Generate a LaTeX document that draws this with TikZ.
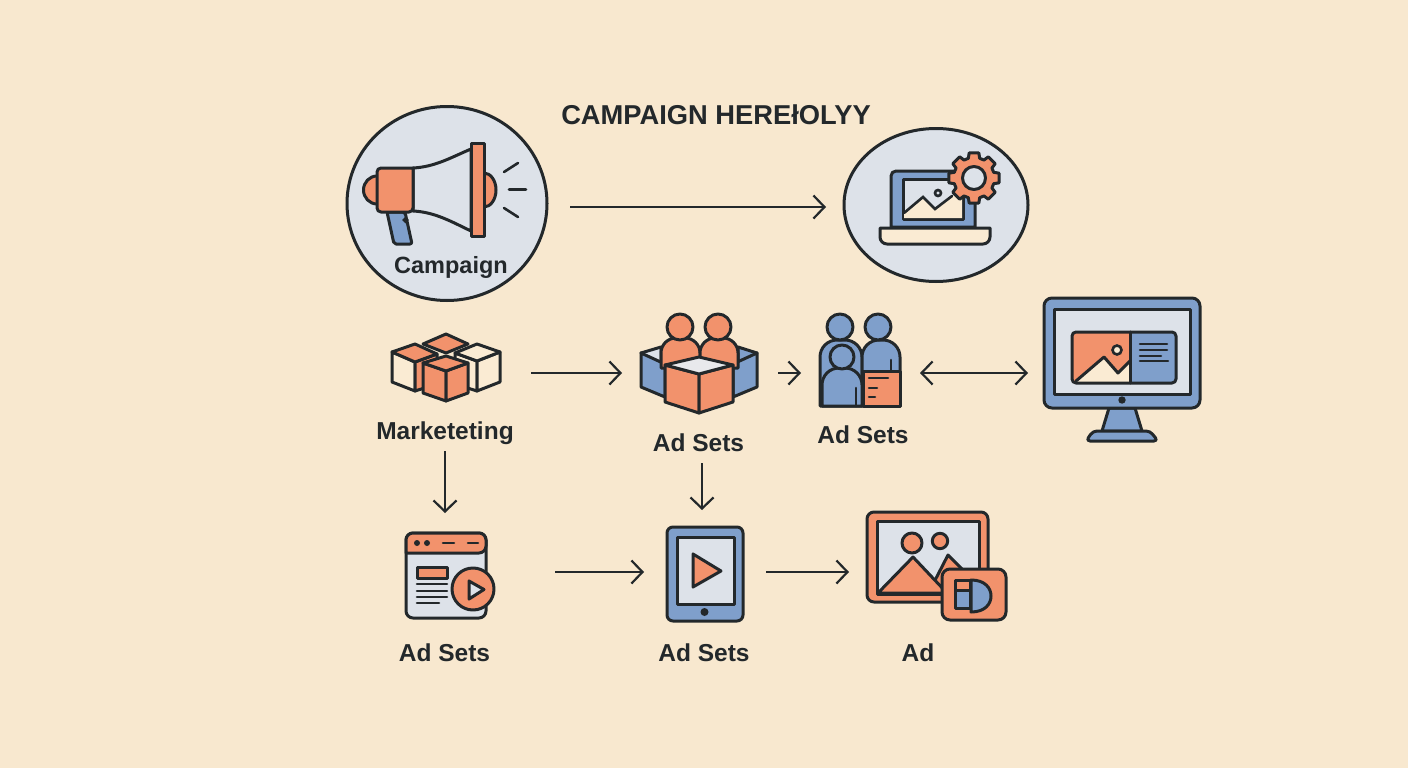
\documentclass[tikz,border=0pt]{standalone}
\usepackage{fontspec}
\setmainfont{Liberation Sans}
\usepackage{xcolor}
\usepackage{tikz}
\usetikzlibrary{arrows.meta,positioning,calc}
\definecolor{pagebg}{HTML}{F8E8CF}
\definecolor{inkdark}{HTML}{23282B}
\definecolor{iconorange}{HTML}{F2926C}
\definecolor{iconblue}{HTML}{7F9FCB}
\definecolor{iconpale}{HTML}{DDE2E9}
\definecolor{iconcream}{HTML}{FAEBD3}
\definecolor{iconwhite}{HTML}{E8E9EC}

\begin{document}
\begin{tikzpicture}[
  x=1pt, y=-1pt,
  hub/.style={inner sep=0pt, outer sep=0pt, minimum width=#1},
  lbl/.style={inner sep=0pt, outer sep=0pt, align=center, text=inkdark, font=\fontsize{24.5}{28}\selectfont\bfseries},
  ink/.style={draw=inkdark, line width=3pt, line join=round, line cap=round},
  thin ink/.style={draw=inkdark, line width=2.6pt, line cap=round},
  arr/.style={-{Straight Barb[length=11pt, width=23pt, line width=2.2pt]}, line width=2.2pt, draw=inkdark},
  biarr/.style={{Straight Barb[length=11pt, width=23pt, line width=2.2pt]}-{Straight Barb[length=11pt, width=23pt, line width=2.2pt]}, line width=2.2pt, draw=inkdark}
]
  \fill[pagebg] (0,0) rectangle (1408,768);
  \useasboundingbox (0,0) rectangle (1408,768);

  % icon places, the connectors run between them
  \node[hub=246pt, minimum height=196pt] (campaign) at (447,207) {};
  \node[hub=220pt, minimum height=154pt] (laptop) at (936,207) {};
  \node[hub=172pt, minimum height=70pt] (cubes) at (445,373) {};
  \node[hub=156pt, minimum height=100pt] (crate) at (700,373) {};
  \node[hub=119pt, minimum height=90pt] (team) at (860.5,373) {};
  \node[hub=188pt, minimum height=140pt] (monitor) at (1122,373) {};
  \node[hub=220pt, minimum height=118pt] (window) at (445,572) {};
  \node[hub=122pt, minimum height=124pt] (tablet) at (705,572) {};
  \node[hub=158pt, minimum height=110pt] (photo) at (928,572) {};

  % campaign
  \draw[ink, fill=iconpale] (447,203.5) ellipse (100 and 97);
  \draw[ink, fill=iconorange] (377,190) ellipse (13.5 and 14);
  \draw[ink, fill=iconorange] (484,190) ellipse (12 and 17);
  \draw[ink, fill=iconblue, rounded corners=2pt] (387,212) -- (405,212) -- (412,244) -- (394,244) -- cycle;
  \draw[thin ink, fill=iconpale] (405.5,220) circle (1.5);
  \draw[ink, fill=iconpale] (413,168) .. controls (435,167) and (452,157) .. (471,149) -- (471,231) .. controls (452,222) and (435,212) .. (413,211) -- cycle;
  \draw[ink, fill=iconorange, rounded corners=4pt] (413,168) -- (377,168) -- (377,212) -- (413,212) [sharp corners] -- cycle;
  \draw[ink, fill=iconorange] (471,143) rectangle (484,236);
  \draw[thin ink] (504,172) -- (518,163);
  \draw[thin ink] (509,189.5) -- (526,189.5);
  \draw[thin ink] (504,208) -- (518,217);
  \node[lbl, font=\fontsize{23.5}{28}\selectfont\bfseries] (campaignlabel) at (451,267) {Campaign};

  % laptop
  \draw[ink, fill=iconpale] (936,205) ellipse (92 and 76.5);
  \draw[ink, fill=iconblue, rounded corners=5pt] (891,227) -- (891,171) -- (975,171) [sharp corners] -- (975,227) -- cycle;
  \draw[ink, fill=iconpale] (903,179) rectangle (963,219);
  \fill[iconcream] (904,213) -- (923,197) -- (935,209) -- (952,196) -- (962,196) -- (962,218) -- (904,218) -- cycle;
  \draw[thin ink] (904,213) -- (923,197) -- (935,209) -- (952,196);
  \draw[thin ink, fill=iconpale] (938,193) circle (3);
  \draw[ink, fill=iconcream, rounded corners=7pt] (880,228) [sharp corners] -- (990,228) [rounded corners=7pt] -- (990,244) -- (880,244) [sharp corners] -- cycle;
  \draw[ink, fill=iconorange, shift={(974,178)}] (-16:20.5)
    \foreach \a in {0,45,...,315} { -- (\a-16:20.5) -- (\a-11:25.5) -- (\a+11:25.5) -- (\a+16:20.5) } -- cycle;
  \draw[ink, fill=iconpale] (974,178) circle (11.5);

  % cubes
  \draw[ink, fill=iconorange] (423,344) -- (446,334) -- (468,344) -- (446,353) -- cycle;
  \draw[ink, fill=iconcream] (392,352) -- (415,362) -- (415,391) -- (392,382) -- cycle;
  \draw[ink, fill=iconorange] (415,362) -- (437,354) -- (437,384) -- (415,391) -- cycle;
  \draw[ink, fill=iconorange] (392,352) -- (415,344) -- (437,354) -- (415,362) -- cycle;
  \draw[ink, fill=iconcream] (455,353) -- (477,361) -- (477,391) -- (455,384) -- cycle;
  \draw[ink, fill=iconcream] (477,361) -- (500,352) -- (500,382) -- (477,391) -- cycle;
  \draw[ink, fill=iconcream] (455,353) -- (477,344) -- (500,352) -- (477,361) -- cycle;
  \draw[ink, fill=iconorange] (423,363) -- (446,371) -- (446,401) -- (423,393) -- cycle;
  \draw[ink, fill=iconorange] (446,371) -- (468,363) -- (468,393) -- (446,401) -- cycle;
  \draw[ink, fill=iconorange] (423,363) -- (446,356) -- (468,363) -- (446,371) -- cycle;
  \node[lbl, minimum height=36pt] (marketlabel) at (445,433) {Marketeting};

  % crate with people
  \draw[ink, fill=iconpale] (641,353) -- (661,347) -- (661,368) -- cycle;
  \draw[ink, fill=iconblue] (757,353) -- (738,347) -- (738,368) -- cycle;
  \draw[ink, fill=iconblue] (641,353) -- (665,364) -- (665,397) -- (641,387) -- cycle;
  \draw[ink, fill=iconblue] (757,353) -- (733,364) -- (733,397) -- (757,387) -- cycle;
  \draw[ink, fill=iconorange, rounded corners=15pt] (661,368) -- (661,338) -- (700,338) [sharp corners] -- (700,368) -- cycle;
  \draw[ink, fill=iconorange, rounded corners=15pt] (700,368) -- (700,338) -- (738,338) [sharp corners] -- (738,368) -- cycle;
  \draw[ink, fill=iconorange] (680,327) circle (13);
  \draw[ink, fill=iconorange] (718,327) circle (13);
  \draw[ink, fill=iconorange] (665,365) -- (699,374) -- (699,413) -- (665,402) -- cycle;
  \draw[ink, fill=iconorange] (699,374) -- (733,365) -- (733,402) -- (699,413) -- cycle;
  \draw[ink, fill=iconwhite] (665,365) -- (699,357) -- (733,365) -- (699,374) -- cycle;
  \node[lbl, minimum height=40pt] (crateslabel) at (698.5,443) {Ad Sets};

  % team
  \draw[ink, fill=iconblue, rounded corners=17pt] (820,406) -- (820,340) -- (862,340) [sharp corners] -- (862,406) -- cycle;
  \draw[ink, fill=iconblue, rounded corners=17pt] (862,406) -- (862,340) -- (900,340) [sharp corners] -- (900,406) -- cycle;
  \draw[ink, fill=iconblue] (840,327) circle (13);
  \draw[ink, fill=iconblue] (878,327) circle (13);
  \draw[thin ink] (891,360) -- (891,371);
  \draw[ink, fill=iconorange] (863,371) rectangle (900,406);
  \draw[thin ink] (869,378) -- (888,378);
  \draw[thin ink] (869,388) -- (877,388);
  \draw[thin ink] (869,397) -- (875,397);
  \draw[ink, fill=iconblue, rounded corners=17pt] (822,406) -- (822,368) -- (862,368) [sharp corners] -- (862,406) -- cycle;
  \draw[ink, fill=iconblue] (842,357) circle (12);
  \draw[thin ink] (856,388) -- (856,406);
  \node[lbl] (teamlabel) at (863,435) {Ad Sets};

  % monitor
  \draw[ink, fill=iconblue] (1109,408) -- (1135,408) -- (1142,431) -- (1102,431) -- cycle;
  \draw[ink, fill=iconblue, rounded corners=4pt] (1086,441) -- (1093,431) -- (1150,431) -- (1158,441) -- cycle;
  \draw[ink, fill=iconblue, rounded corners=8pt] (1044,298) rectangle (1200,408);
  \draw[ink, fill=iconpale] (1054,309) rectangle (1190,394);
  \fill[iconorange, rounded corners=4pt] (1072,332) -- (1072,383) -- (1130,383) -- (1130,332) -- cycle;
  \fill[iconblue, rounded corners=4pt] (1130,332) -- (1130,383) -- (1176,383) -- (1176,332) -- cycle;
  \fill[iconcream] (1076,381) -- (1104,357) -- (1118,373) -- (1130,361) -- (1130,383) -- (1076,383) -- cycle;
  \draw[ink] (1076,381) -- (1104,357) -- (1118,373) -- (1130,361);
  \draw[ink, rounded corners=4pt] (1072,332) rectangle (1176,383);
  \draw[ink] (1130,332) -- (1130,383);
  \draw[thin ink, fill=iconcream] (1117,350) circle (4.5);
  \draw[thin ink] (1140,344) -- (1167,344);
  \draw[thin ink] (1140,350) -- (1167,350);
  \draw[thin ink] (1140,356) -- (1161,356);
  \draw[thin ink] (1140,361) -- (1168,361);
  \fill[inkdark] (1122,400) circle (3.7);

  % window
  \draw[ink, fill=iconpale, rounded corners=7pt] (406,533) rectangle (486,618);
  \draw[ink, fill=iconorange, rounded corners=7pt] (406,553) -- (406,533) -- (486,533) -- (486,553) [sharp corners] -- cycle;
  \fill[inkdark] (417,543) circle (3);
  \fill[inkdark] (427,543) circle (3);
  \draw[thin ink] (443,543) -- (454,543);
  \draw[thin ink] (468,543) -- (478,543);
  \draw[ink, fill=iconorange] (417,567) rectangle (447,578);
  \draw[thin ink] (417,584) -- (447,584);
  \draw[thin ink] (417,591) -- (447,591);
  \draw[thin ink] (417,597) -- (447,597);
  \draw[thin ink] (417,603) -- (439,603);
  \draw[ink, fill=iconorange] (473,589) circle (21);
  \draw[ink, fill=iconpale] (469,581) -- (484,589.5) -- (469,599) -- cycle;
  \node[lbl] (windowlabel) at (444.5,652.5) {Ad Sets};

  % tablet
  \draw[ink, fill=iconblue, rounded corners=6pt] (667,527) rectangle (743,621);
  \draw[ink, fill=iconpale] (677,537) rectangle (734,604);
  \draw[ink, fill=iconorange] (693,554) -- (721,571) -- (693,587) -- cycle;
  \fill[inkdark] (704.5,612) circle (4);
  \node[lbl] (tabletlabel) at (704,652.5) {Ad Sets};

  % photo
  \draw[ink, fill=iconorange, rounded corners=7pt] (867,512) rectangle (988,602);
  \draw[ink, fill=iconpale] (877,521) rectangle (979,594);
  \draw[ink, fill=iconorange] (930,590) -- (948,555) -- (975,582) -- (975,590) -- cycle;
  \draw[ink, fill=iconorange] (878,593) -- (913,557) -- (947,593) -- cycle;
  \draw[ink, fill=iconorange] (912,543) circle (10);
  \draw[ink, fill=iconorange] (940,541) circle (7.7);
  \draw[ink, fill=iconorange, rounded corners=8pt] (942,569) rectangle (1006,620);
  \draw[ink, fill=iconorange] (955,580) rectangle (970,590);
  \draw[ink, fill=iconblue] (955,590) rectangle (970,608);
  \draw[ink, fill=iconblue] (971,580) .. controls (985,580) and (991,588) .. (991,596) .. controls (991,604) and (985,612) .. (971,612) -- cycle;
  \node[lbl] (photolabel) at (918,652.5) {Ad};

  \node[lbl, font=\fontsize{27.3}{30}\selectfont\bfseries] (heading) at (716,115) {CAMPAIGN HEREłOLYY};

  \draw[arr] (campaign) -- (laptop);
  \draw[arr] (cubes) -- (crate);
  \draw[arr] (crate) -- (team);
  \draw[biarr] (team) -- (monitor);
  \draw[arr] (marketlabel.south) -- (window.north);
  \draw[arr] ([xshift=3.5pt]crateslabel.south) -- ([xshift=-3pt]tablet.north);
  \draw[arr] (window) -- (tablet);
  \draw[arr] (tablet) -- (photo);
\end{tikzpicture}
\end{document}
